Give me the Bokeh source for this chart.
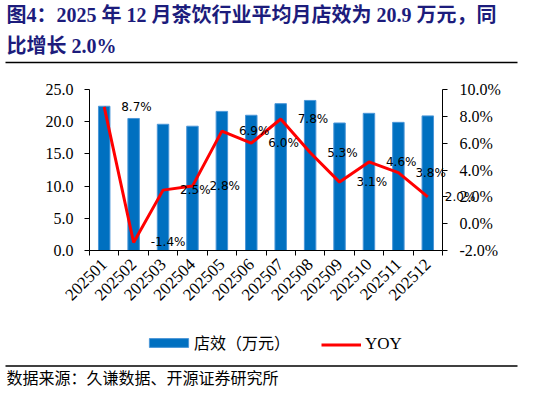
import math
from bokeh.plotting import figure
from bokeh.layouts import column
from bokeh.models import (ColumnDataSource, Range1d, LinearAxis, FixedTicker, PrintfTickFormatter,
                          Legend, LegendItem)
from bokeh.core.properties import value
from bokeh.embed import file_html
from bokeh.resources import INLINE

# ---------------- data ----------------
months = ["202501", "202502", "202503", "202504", "202505", "202506",
          "202507", "202508", "202509", "202510", "202511", "202512"]
store_eff = [22.4, 20.5, 19.6, 19.3, 21.6, 21.0, 22.8, 23.3, 19.8, 21.3, 19.9, 20.9]
yoy = [8.7, -1.4, 2.5, 2.8, 6.9, 6.0, 7.8, 5.3, 3.1, 4.6, 3.8, 2.0]
left_ticks = [0, 5, 10, 15, 20, 25]
right_ticks = [-2, 0, 2, 4, 6, 8, 10]

title_line1 = "图4：2025 年 12 月茶饮行业平均月店效为 20.9 万元，同"
title_line2 = "比增长 2.0%"
source_note = "数据来源：久谦数据、开源证券研究所"
bar_name = "店效（万元）"
line_name = "YOY"

SERIF = "Liberation Serif"
CJK = "Noto Sans CJK SC"
BAR_FILL = "#0070C0"
BAR_EDGE = "#4C97D8"
LINE_COL = "#FF0000"
TITLE_COL = "#1C1C7C"
W = 518


def blank_fig(h):
    f = figure(width=W, height=h, output_backend="svg", toolbar_location=None,
               x_range=Range1d(0, W), y_range=Range1d(h, 0),
               x_axis_type=None, y_axis_type=None, min_border=0, frame_align=False)
    f.outline_line_color = None
    f.xgrid.grid_line_color = None
    f.ygrid.grid_line_color = None
    return f


# ---------------- title block ----------------
top = blank_fig(68)
title_font = value(f"{SERIF}, {CJK}")
top.text(x=[6, 6], y=[14.5, 45.5], text=[title_line1, title_line2],
         text_font=title_font, text_font_size=value("20px"), text_font_style="bold",
         text_color=TITLE_COL, text_baseline="middle", text_align="left")
top.line(x=[5, 517], y=[62, 62], line_color="black", line_width=1.5)

# ---------------- main chart ----------------
idx = list(range(len(months)))
src = ColumnDataSource(dict(x=idx, eff=store_eff, yoy=yoy,
                            lab=[f"{v:.1f}%" for v in yoy]))

p = figure(width=W, height=240, output_backend="svg", toolbar_location=None,
           x_range=Range1d(-0.5, len(months) - 0.5), y_range=Range1d(0, 25),
           min_border_left=89, min_border_right=76, min_border_top=21, min_border_bottom=58,
           frame_align=False)
p.outline_line_color = None
p.xgrid.grid_line_color = None
p.ygrid.grid_line_color = None
p.extra_y_ranges = {"yoy": Range1d(-2, 10)}

xa = p.xaxis[0]
xa.ticker = FixedTicker(ticks=idx, minor_ticks=[i - 0.5 for i in range(len(months) + 1)])
xa.major_label_overrides = {i: m for i, m in zip(idx, months)}
xa.major_tick_line_color = None
xa.major_tick_out = 0
xa.major_tick_in = 0
xa.minor_tick_out = 5
xa.minor_tick_in = 0
xa.minor_tick_line_color = "black"
xa.axis_line_color = "black"
xa.major_label_orientation = math.pi / 4
xa.major_label_standoff = 6
xa.major_label_text_font = SERIF
xa.major_label_text_font_size = "17px"
xa.major_label_text_color = "black"

ya = p.yaxis[0]
ya.ticker = FixedTicker(ticks=left_ticks)
ya.formatter = PrintfTickFormatter(format="%.1f")
ya.major_tick_out = 5
ya.major_tick_in = 0
ya.major_tick_line_color = "black"
ya.axis_line_color = "black"
ya.minor_tick_line_color = None
ya.major_label_standoff = 11
ya.major_label_text_font = SERIF
ya.major_label_text_font_size = "16px"
ya.major_label_text_color = "black"

ra = LinearAxis(y_range_name="yoy", ticker=FixedTicker(ticks=right_ticks),
                formatter=PrintfTickFormatter(format="%.1f%%"))
ra.major_tick_out = 5
ra.major_tick_in = 0
ra.major_tick_line_color = "black"
ra.axis_line_color = "black"
ra.minor_tick_line_color = None
ra.major_label_standoff = 12
ra.major_label_text_font = SERIF
ra.major_label_text_font_size = "16px"
ra.major_label_text_color = "black"
p.add_layout(ra, "right")

p.vbar(x="x", top="eff", width=0.39, source=src,
       fill_color=BAR_FILL, line_color=BAR_EDGE, line_width=1)
p.line(x="x", y="yoy", source=src, y_range_name="yoy",
       line_color=LINE_COL, line_width=3)
# data labels drawn at overlay level so the last ones may run past the frame edge
p.text(x="x", y="yoy", text="lab", source=src, y_range_name="yoy", level="overlay",
       x_offset=17, text_align="left", text_baseline="middle",
       text_font=value("DejaVu Sans"), text_font_size=value("12px"), text_color="black")

# ---------------- legend + source block ----------------
bot = blank_fig(81)
# hidden copies of the two series, used only to draw the legend swatches
lb = bot.vbar(x="x", top="eff", width=0.39, source=src, visible=False,
              fill_color=BAR_FILL, line_color=BAR_EDGE, line_width=1)
ll = bot.line(x="x", y="yoy", source=src, visible=False,
              line_color=LINE_COL, line_width=3)
common = dict(orientation="horizontal", padding=0, margin=0,
              border_line_color=None, background_fill_alpha=0,
              inactive_fill_alpha=0, label_text_color="black")
leg1 = Legend(items=[LegendItem(label=bar_name, renderers=[lb])],
              location=(144, 35), glyph_width=49, glyph_height=11, label_standoff=1,
              label_text_font=CJK, label_text_font_size="16px", **common)
leg2 = Legend(items=[LegendItem(label=line_name, renderers=[ll])],
              location=(321, 35), glyph_width=40, glyph_height=11, label_standoff=4,
              label_text_font=SERIF, label_text_font_size="17px", **common)
bot.add_layout(leg1)
bot.add_layout(leg2)
bot.line(x=[5, 517], y=[57.5, 57.5], line_color="black", line_width=1.5)
bot.text(x=[6], y=[68.5], text=[source_note], text_font=value(CJK),
         text_font_size=value("16px"), text_color="black",
         text_baseline="middle", text_align="left")

layout = column(top, p, bot, spacing=0)
open("out.html", "w").write(file_html(layout, INLINE))
